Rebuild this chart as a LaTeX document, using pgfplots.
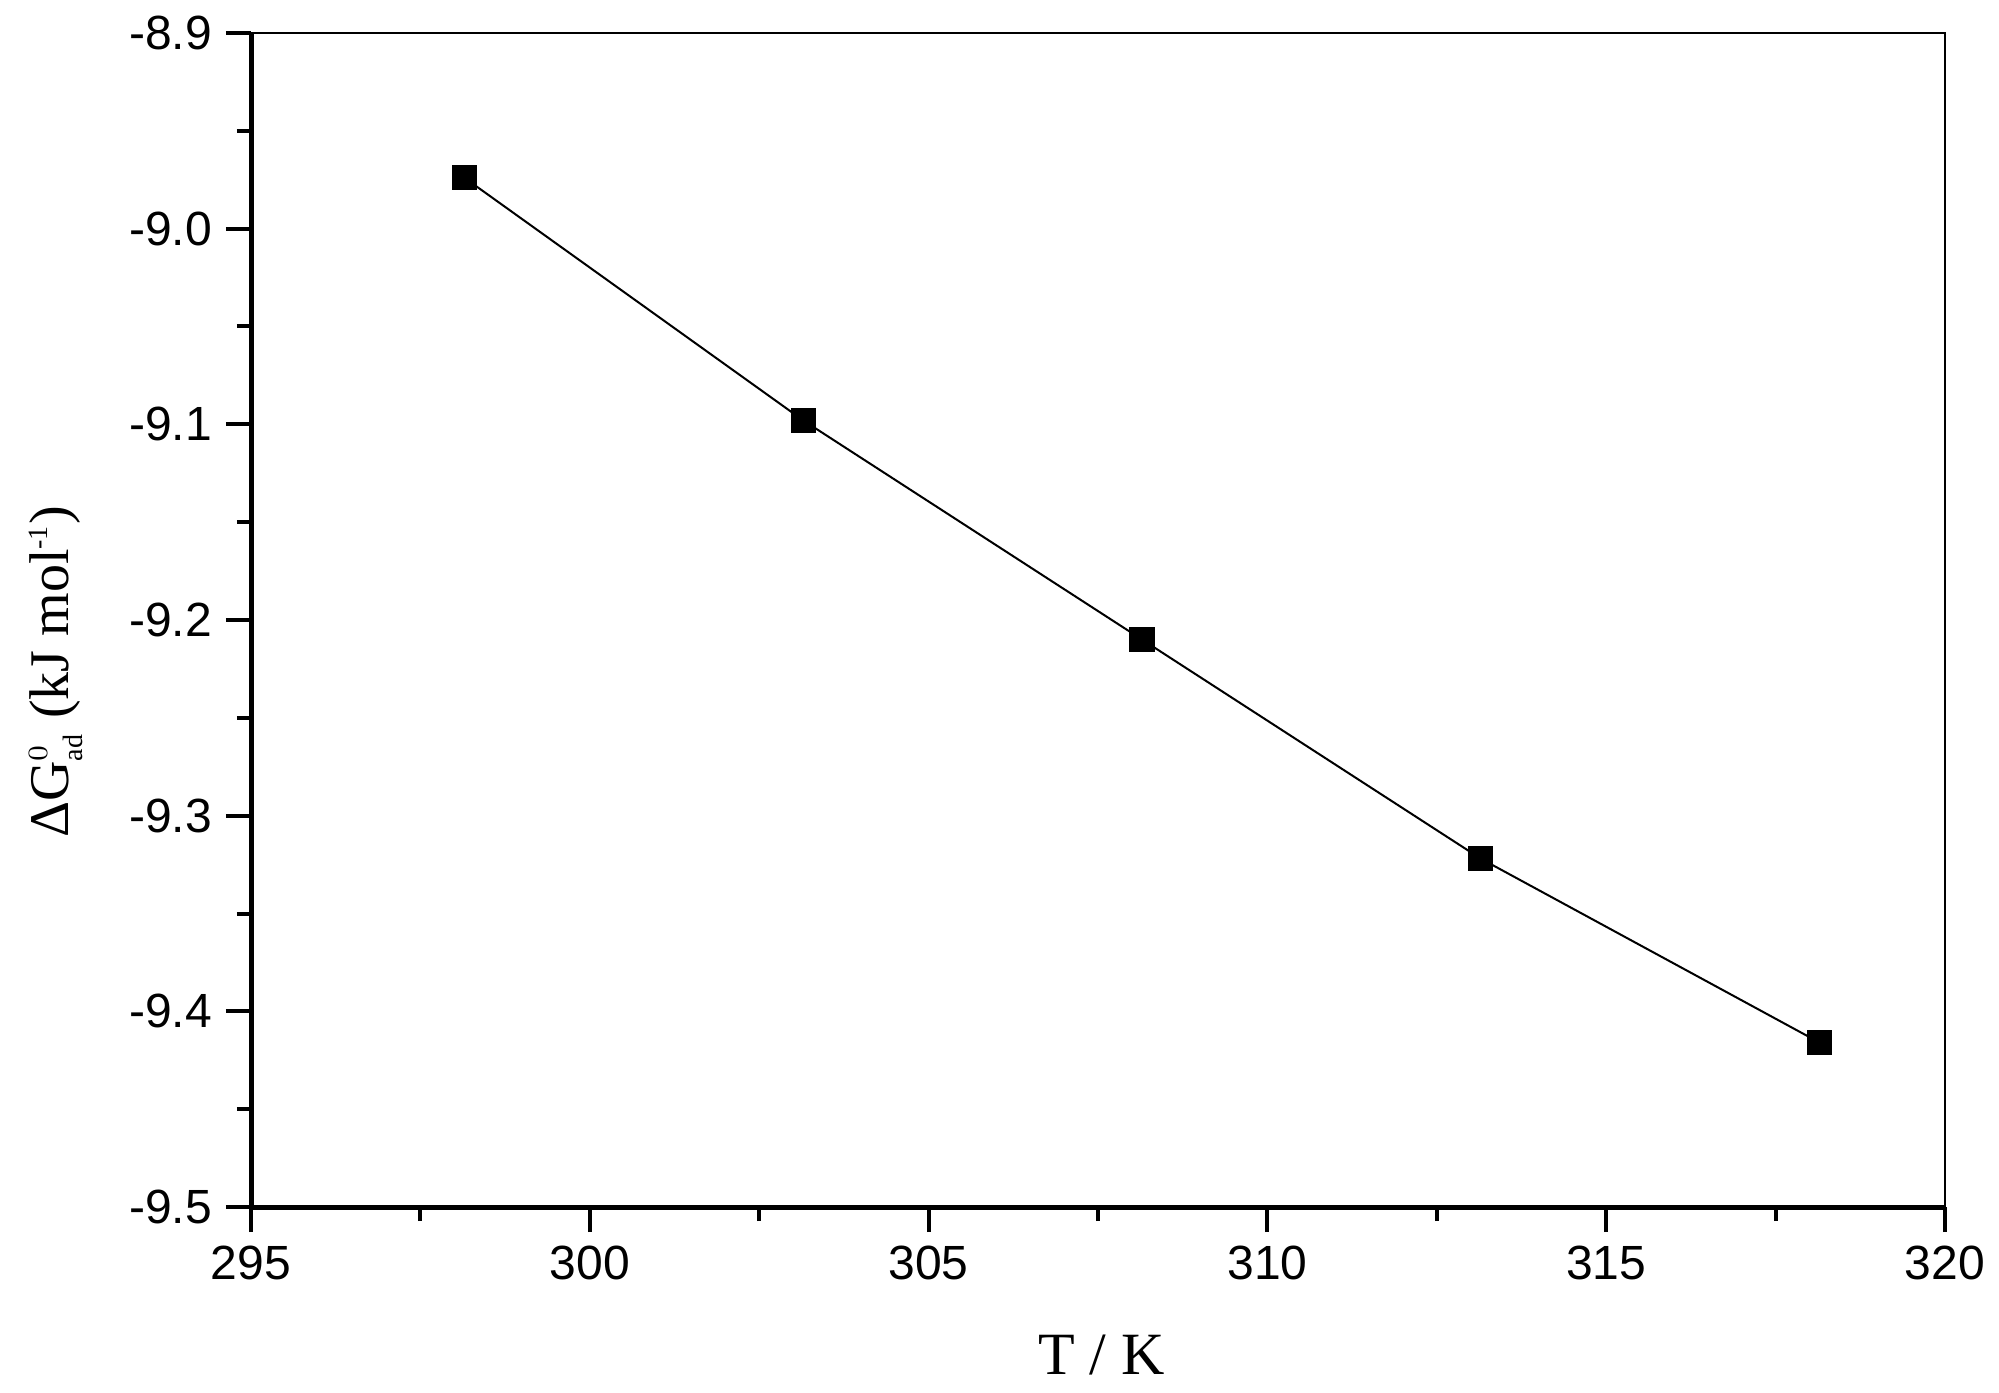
\documentclass[border=0pt]{standalone}
\usepackage{fontspec}
\setmainfont{Liberation Serif}
\newfontfamily\sansf{Liberation Sans}
\usepackage{pgfplots}
\pgfplotsset{compat=1.18}
\begin{document}
\begin{tikzpicture}
\begin{axis}[
    name=ax,
    scale only axis,
    width=423.5pt, height=293.5pt,
    xmin=295, xmax=320,
    ymin=-9.5, ymax=-8.9,
    xtick={295,300,305,310,315,320},
    xticklabels={295,300,305,310,315,320},
    ytick={-9.5,-9.4,-9.3,-9.2,-9.1,-9.0,-8.9},
    yticklabels={-9.5,-9.4,-9.3,-9.2,-9.1,-9.0,-8.9},
    minor x tick num=1,
    minor y tick num=1,
    xtick pos=bottom, ytick pos=left,
    tick align=outside,
    major tick length=6.25pt,
    minor tick length=3.5pt,
    every tick/.style={black, line width=1pt},
    axis line style={line width=0.5pt},
    ticklabel style={font=\sansf\fontsize{12}{14}\selectfont},
    xlabel={T / K},
    ylabel={ΔG$^{\scriptscriptstyle 0}_{\scriptscriptstyle\mathrm{ad}}$ (kJ mol\textsuperscript{\fontsize{7}{7}\selectfont -1})},
    xlabel style={font=\fontsize{15}{18}\selectfont, at={(axis description cs:0.502,-0.143)}, anchor=base},
    ylabel style={font=\fontsize{14}{17}\selectfont, at={(axis description cs:-0.108,0.456)}, anchor=base},
    clip=false,
]
% Delta G vs T
\addplot[black, line width=0.5pt, mark=square*, mark size=3pt,
         mark options={solid, fill=black, line width=0.3pt}] coordinates {
    (298.15,-8.974)
    (303.15,-9.098)
    (308.15,-9.210)
    (313.15,-9.322)
    (318.15,-9.416)
};
\end{axis}
\draw[line width=1.25pt] (ax.north west) -- (ax.south west) -- (ax.south east);
\pgfresetboundingbox
\path ([shift={(-62.75pt,-46.25pt)}]ax.south west) rectangle ([shift={(437pt,301.75pt)}]ax.south west);
\end{tikzpicture}
\end{document}
